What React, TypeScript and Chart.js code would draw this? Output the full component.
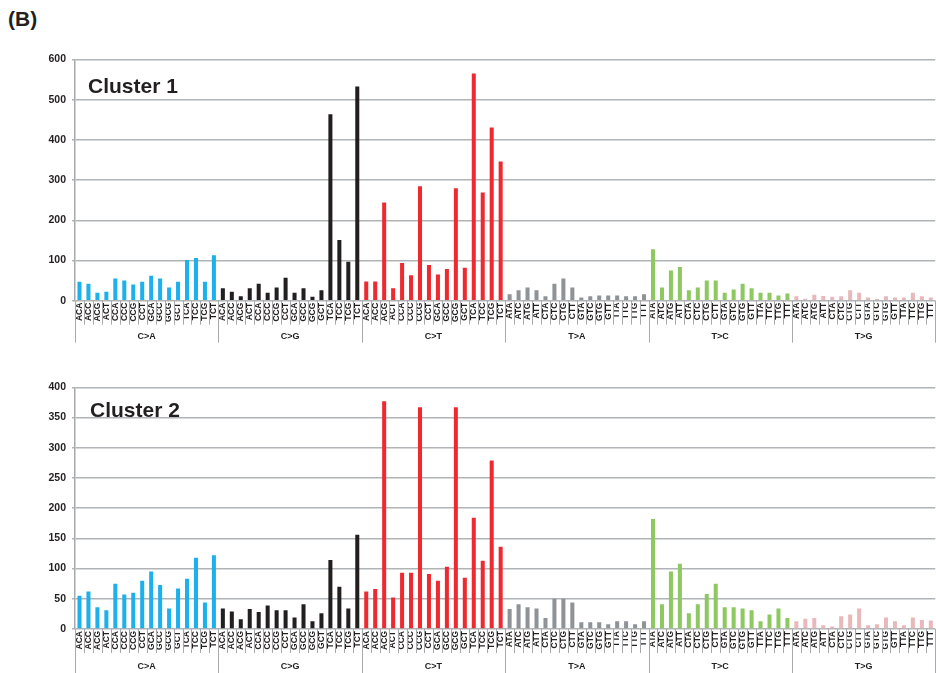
import React, { useEffect, useRef } from "react";
import { Chart, registerables } from "chart.js";

Chart.register(...registerables);

const FONT = "'Liberation Sans', Arial, sans-serif";

const MUTATION_TYPES = ["C>A", "C>G", "C>T", "T>A", "T>C", "T>G"];
const C_CONTEXTS = ["ACA", "ACC", "ACG", "ACT", "CCA", "CCC", "CCG", "CCT", "GCA", "GCC", "GCG", "GCT", "TCA", "TCC", "TCG", "TCT"];
const T_CONTEXTS = ["ATA", "ATC", "ATG", "ATT", "CTA", "CTC", "CTG", "CTT", "GTA", "GTC", "GTG", "GTT", "TTA", "TTC", "TTG", "TTT"];
const TYPE_COLORS = ["#1cb1ec", "#231f20", "#ee2a30", "#8e9398", "#8dc860", "#e8b8ba"];

// Cluster 1 counts per mutation type (16 trinucleotide contexts each)
const C1_CA = [47, 42, 20, 22, 55, 50, 40, 47, 62, 55, 33, 47, 101, 106, 47, 113];
const C1_CG = [31, 22, 11, 31, 42, 20, 33, 57, 20, 31, 10, 26, 464, 151, 97, 533];
const C1_CT = [48, 48, 244, 31, 94, 63, 285, 89, 65, 79, 280, 82, 565, 269, 431, 346];
const C1_TA = [16, 26, 33, 26, 11, 42, 55, 33, 8, 11, 13, 13, 13, 11, 11, 16];
const C1_TC = [128, 33, 75, 84, 26, 33, 50, 50, 20, 28, 42, 31, 20, 20, 13, 18];
const C1_TG = [11, 5, 15, 12, 10, 11, 26, 20, 8, 4, 11, 8, 8, 20, 11, 8];

// Cluster 2 counts per mutation type
const C2_CA = [55, 62, 36, 31, 75, 57, 60, 80, 95, 73, 34, 67, 83, 118, 44, 122];
const C2_CG = [34, 29, 16, 33, 28, 39, 31, 31, 19, 41, 13, 26, 114, 70, 34, 156];
const C2_CT = [62, 66, 377, 52, 93, 93, 367, 91, 80, 103, 367, 85, 184, 113, 279, 136];
const C2_TA = [33, 41, 36, 34, 18, 50, 50, 44, 11, 11, 11, 8, 13, 13, 8, 13];
const C2_TC = [182, 41, 95, 108, 26, 41, 58, 75, 36, 36, 34, 31, 13, 24, 34, 18];
const C2_TG = [13, 17, 18, 6, 4, 21, 24, 34, 6, 8, 19, 13, 6, 19, 15, 14];

const C1_MAX = 600;
const C1_STEP = 100;
const C2_MAX = 400;
const C2_STEP = 50;

const LABELS: string[] = [];
const BAR_COLORS: string[] = [];
MUTATION_TYPES.forEach((t, g) => {
  const ctxs = g < 3 ? C_CONTEXTS : T_CONTEXTS;
  ctxs.forEach((c) => {
    LABELS.push(c);
    BAR_COLORS.push(TYPE_COLORS[g]);
  });
});

const decorPlugin = {
  id: "decor",
  afterDraw(chart: any, _args: any, opts: any) {
    const { ctx, chartArea, scales } = chart;
    const x = scales.x;
    const n = LABELS.length;
    const half = (x.getPixelForValue(1) - x.getPixelForValue(0)) / 2;
    ctx.save();
    ctx.strokeStyle = "#a7a9ac";
    ctx.lineWidth = 1;
    for (let i = 0; i <= n; i++) {
      const px = Math.round(x.getPixelForValue(i) - half) + 0.5;
      const len = i % 16 === 0 ? opts.groupLen : opts.tickLen;
      ctx.beginPath();
      ctx.moveTo(px, chartArea.bottom);
      ctx.lineTo(px, chartArea.bottom + len);
      ctx.stroke();
    }
    ctx.fillStyle = "#231f20";
    ctx.font = `bold 9px ${FONT}`;
    ctx.textAlign = "center";
    ctx.textBaseline = "alphabetic";
    MUTATION_TYPES.forEach((t, g) => {
      const cx = (x.getPixelForValue(g * 16) + x.getPixelForValue(g * 16 + 15)) / 2;
      ctx.fillText(t, cx, chartArea.bottom + opts.groupLabelY);
    });
    ctx.font = `bold 21px ${FONT}`;
    ctx.textAlign = "left";
    ctx.fillText(opts.title, chartArea.left + opts.titleDx, opts.titleBaseline);
    ctx.restore();
  },
};

function makeConfig(values: number[], max: number, step: number, padTop: number, xHeight: number, deco: any): any {
  return {
    type: "bar",
    data: {
      labels: LABELS,
      datasets: [
        {
          data: values,
          backgroundColor: BAR_COLORS,
          borderWidth: 0,
          barPercentage: 0.45,
          categoryPercentage: 1.0,
        },
      ],
    },
    plugins: [decorPlugin],
    options: {
      responsive: false,
      animation: false,
      devicePixelRatio: 1,
      layout: { padding: { top: padTop, left: 0, right: 0, bottom: 0 } },
      plugins: {
        legend: { display: false },
        tooltip: { enabled: false },
        decor: deco,
      },
      scales: {
        x: {
          grid: { display: false, drawTicks: false },
          border: { display: false },
          ticks: {
            autoSkip: false,
            minRotation: 90,
            maxRotation: 90,
            padding: 2,
            color: "#231f20",
            font: { family: FONT, size: 8.5, weight: "bold" },
          },
          afterFit(s: any) {
            s.height = xHeight;
          },
        },
        y: {
          min: 0,
          max: max,
          ticks: {
            stepSize: step,
            padding: 6,
            color: "#231f20",
            font: { family: FONT, size: 10.5, weight: "bold" },
          },
          grid: { color: "#b1b4b7", lineWidth: 1.5, tickLength: 3 },
          border: { color: "#a7a9ac", width: 1.5 },
          afterFit(s: any) {
            s.width = 75;
          },
        },
      },
    },
  };
}

export default function App() {
  const ref1 = useRef<HTMLCanvasElement>(null);
  const ref2 = useRef<HTMLCanvasElement>(null);

  useEffect(() => {
    const v1 = [...C1_CA, ...C1_CG, ...C1_CT, ...C1_TA, ...C1_TC, ...C1_TG];
    const v2 = [...C2_CA, ...C2_CG, ...C2_CT, ...C2_TA, ...C2_TC, ...C2_TG];
    const ch1 = new Chart(
      ref1.current!,
      makeConfig(v1, C1_MAX, C1_STEP, 59.5, 49.3, {
        title: "Cluster 1",
        titleDx: 13,
        titleBaseline: 92.7,
        tickLen: 24,
        groupLen: 42,
        groupLabelY: 38.6,
      })
    );
    const ch2 = new Chart(
      ref2.current!,
      makeConfig(v2, C2_MAX, C2_STEP, 37.3, 44, {
        title: "Cluster 2",
        titleDx: 15,
        titleBaseline: 67.3,
        tickLen: 24,
        groupLen: 44,
        groupLabelY: 39.7,
      })
    );
    return () => {
      ch1.destroy();
      ch2.destroy();
    };
  }, []);

  return (
    <div
      style={{
        position: "fixed",
        left: 0,
        top: 0,
        width: 936,
        height: 673,
        overflow: "hidden",
        background: "#fff",
      }}
    >
      <div
        style={{
          position: "absolute",
          left: 8,
          top: 7,
          fontFamily: FONT,
          fontWeight: "bold",
          fontSize: 21,
          lineHeight: "24px",
          color: "#231f20",
        }}
      >
        (B)
      </div>
      <canvas ref={ref1} width={943} height={350} style={{ position: "absolute", left: 0, top: 0, width: 943, height: 350 }} />
      <canvas ref={ref2} width={943} height={323} style={{ position: "absolute", left: 0, top: 350, width: 943, height: 323 }} />
    </div>
  );
}
